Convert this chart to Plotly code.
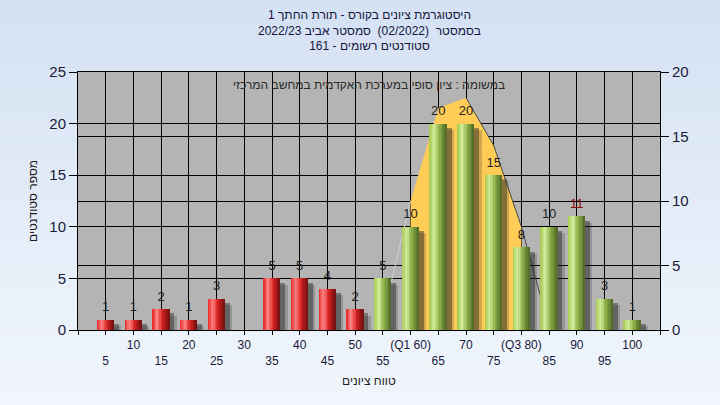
import plotly.graph_objects as go

# ---------------- data ----------------
categories = [5, 10, 15, 20, 25, 30, 35, 40, 45, 50, 55, 60, 65, 70, 75, 80, 85, 90, 95, 100]
counts = [1, 1, 2, 1, 3, 0, 5, 5, 4, 2, 5, 10, 20, 20, 15, 8, 10, 11, 3, 1]
tick_labels = ["5", "10", "15", "20", "25", "30", "35", "40", "45", "50", "55",
               "(Q1 60)", "65", "70", "75", "(Q3 80)", "85", "90", "95", "100"]
pass_mark = 55

curve_x = [55, 60, 65, 70, 75, 80, 85]
curve_y = [1.0, 10.0, 17.2, 18.0, 14.3, 8.0, 0.2]
q1, q3 = 60, 80

title_lines = ["היסטוגרמת ציונים בקורס - תורת החתך 1",
               "בסמסטר  (02/2022)  סמסטר אביב 2022/23",
               "סטודנטים רשומים - 161"]
note_text = "במשומה : ציון סופי במערכת האקדמית במחשב המרכזי"
x_title = "טווח ציונים"
y_title = "מספר סטודנטים"

FONT = "Arial, Liberation Sans, DejaVu Sans, sans-serif"

# ---------------- helpers ----------------
def hex2rgb(h):
    h = h.lstrip('#')
    return tuple(int(h[i:i + 2], 16) for i in (0, 2, 4))

def interp(stops, t):
    for (t0, c0), (t1, c1) in zip(stops[:-1], stops[1:]):
        if t0 <= t <= t1:
            a = (t - t0) / (t1 - t0) if t1 > t0 else 0
            r0, r1 = hex2rgb(c0), hex2rgb(c1)
            return 'rgb(%d,%d,%d)' % tuple(round(r0[k] + (r1[k] - r0[k]) * a) for k in range(3))
    return stops[-1][1]

red_stops = [(0, '#E42424'), (0.28, '#FF8484'), (0.6, '#D82222'), (1.0, '#6E1010')]
green_stops = [(0, '#A2C84A'), (0.28, '#D4EC9C'), (0.6, '#8EB04A'), (1.0, '#4C6826')]

fig = go.Figure()

# ---- area / curve on main y (right axis) ----
fx = [x for x in curve_x if q1 <= x <= q3]
fy = [y for x, y in zip(curve_x, curve_y) if q1 <= x <= q3]
fig.add_trace(go.Scatter(x=fx, y=fy, mode='lines', fill='tozeroy',
                         fillcolor='#FFCC55', line=dict(width=0, color='#FFCC55'),
                         yaxis='y', hoverinfo='skip', showlegend=False))
lx = [x for x in curve_x if x <= q1]
ly = [y for x, y in zip(curve_x, curve_y) if x <= q1]
fig.add_trace(go.Scatter(x=lx, y=ly, mode='lines', line=dict(width=1, color='#CFCFCF'),
                         yaxis='y', hoverinfo='skip', showlegend=False))
rx = [x for x in curve_x if x >= 70]
ry = [y for x, y in zip(curve_x, curve_y) if x >= 70]
fig.add_trace(go.Scatter(x=rx, y=ry, mode='lines', line=dict(width=1, color='#4A4A4A'),
                         yaxis='y', hoverinfo='skip', showlegend=False))

# ---- bars on y2 (left axis) ----
BW = 3.0
# shadows
for dx, base, col in [(1.3, -0.6, 'rgba(40,40,40,0.22)'), (0.9, -0.4, 'rgba(30,30,30,0.42)')]:
    fig.add_trace(go.Bar(x=categories, y=counts, base=base, width=BW, offset=-BW / 2 + dx,
                         marker=dict(color=col, line=dict(width=0)), yaxis='y2',
                         hoverinfo='skip', showlegend=False))
N = 12
w = BW / N
for i in range(N):
    t = (i + 0.5) / N
    cols = [interp(red_stops, t) if c < pass_mark else interp(green_stops, t) for c in categories]
    fig.add_trace(go.Bar(x=categories, y=counts, width=w * 1.02, offset=-BW / 2 + i * w,
                         marker=dict(color=cols, line=dict(width=0)), yaxis='y2',
                         hoverinfo='skip', showlegend=False))

label_cols = ['#8B0A0A' if v == 11 else '#1E1E1E' for v in counts]
fig.add_trace(go.Scatter(x=categories, y=counts, mode='markers+text',
                         text=[str(v) if v > 0 else '' for v in counts],
                         textposition='top center',
                         marker=dict(size=7, color='rgba(0,0,0,0)'),
                         textfont=dict(family=FONT, size=13, color=label_cols),
                         yaxis='y2', cliponaxis=False, hoverinfo='skip', showlegend=False))

# ---------------- layout ----------------
xt_vals = [0] + categories + [105]
xt_text = [''] + [lab if i % 2 == 1 else ' <br>' + lab for i, lab in enumerate(tick_labels)] + ['']

shapes = []
NS = 40
top_c, bot_c = hex2rgb('#D4E1F3'), hex2rgb('#F1F6FC')
for i in range(NS):
    a = i / (NS - 1)
    c = tuple(round(top_c[k] + (bot_c[k] - top_c[k]) * a) for k in range(3))
    shapes.append(dict(type='rect', xref='paper', yref='paper', layer='below',
                       x0=-0.2, x1=1.2, y0=1.3 - (i + 1) * 1.6 / NS, y1=1.3 - i * 1.6 / NS + 0.005,
                       fillcolor='rgb(%d,%d,%d)' % c, line=dict(width=0)))
shapes.append(dict(type='rect', xref='x domain', yref='y domain', layer='below',
                   x0=0, x1=1, y0=0, y1=1, fillcolor='#B4B4B4', line=dict(width=0)))

fig.update_layout(
    width=720, height=405,
    margin=dict(l=78, r=60, t=72, b=75),
    paper_bgcolor='#E2EBF7', plot_bgcolor='#B4B4B4',
    barmode='overlay', bargap=0,
    font=dict(family=FONT, color='#1A1A3A'),
    showlegend=False,
    shapes=shapes,
    xaxis=dict(range=[0, 105], tickmode='array', tickvals=xt_vals, ticktext=xt_text,
               tickangle=0, automargin=False,
               showgrid=True, gridcolor='black', gridwidth=1,
               showline=True, linecolor='black', linewidth=1, mirror=True,
               ticks='outside', ticklen=4, tickcolor='black',
               tickfont=dict(size=12, color='#1A1A3A', family=FONT), zeroline=False,
               fixedrange=True),
    yaxis=dict(range=[0, 20], side='right', tickvals=[0, 5, 10, 15, 20], automargin=False,
               showgrid=True, gridcolor='black', gridwidth=1,
               showline=True, linecolor='black', linewidth=1,
               ticks='outside', ticklen=8, tickcolor='black',
               tickfont=dict(size=15, color='#1A1A3A', family=FONT), zeroline=False),
    yaxis2=dict(range=[0, 25], side='left', overlaying='y', tickvals=[0, 5, 10, 15, 20, 25],
                automargin=False,
                showgrid=True, gridcolor='black', gridwidth=1,
                showline=True, linecolor='black', linewidth=1,
                ticks='outside', ticklen=8, tickcolor='black',
                tickfont=dict(size=15, color='#1A1A3A', family=FONT), zeroline=False),
    annotations=[
        dict(text='<br>'.join(title_lines), xref='paper', yref='paper', x=0.5, y=1.0,
             yshift=66, xanchor='center', yanchor='top', showarrow=False,
             font=dict(size=12, color='#14143C', family=FONT)),
        dict(text=note_text, xref='paper', yref='paper', x=0.5, y=1.0, yshift=-13,
             xanchor='center', yanchor='middle', showarrow=False,
             font=dict(size=12, color='#2A2A2A', family=FONT)),
        dict(text=x_title, xref='paper', yref='paper', x=0.5, y=0, yshift=-51,
             xanchor='center', yanchor='middle', showarrow=False,
             font=dict(size=12, color='#1E1E1E', family=FONT)),
        dict(text=y_title, xref='paper', yref='paper', x=0, y=0.5, xshift=-45,
             xanchor='center', yanchor='middle', showarrow=False, textangle=-90,
             font=dict(size=12, color='#1E1E1E', family=FONT)),
    ],
)

fig.write_html("out.html", config={'displayModeBar': False},
               post_script="document.body.style.margin='0';")
